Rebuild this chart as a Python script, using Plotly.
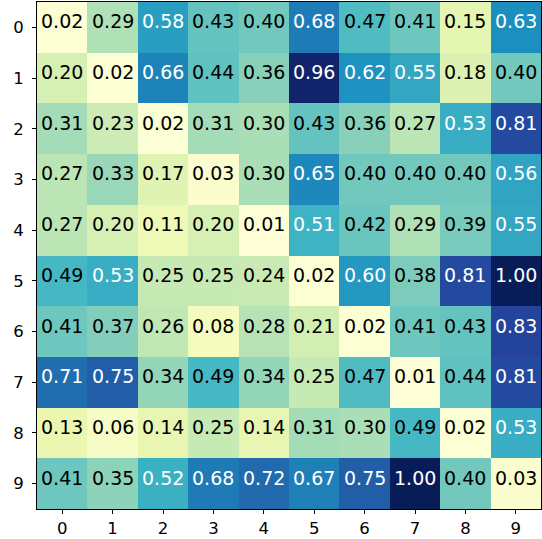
import plotly.graph_objects as go

# Pairwise distance matrix shown as an annotated heatmap
labels = [str(i) for i in range(10)]
row0 = [0.02, 0.29, 0.58, 0.43, 0.40, 0.68, 0.47, 0.41, 0.15, 0.63]
row1 = [0.20, 0.02, 0.66, 0.44, 0.36, 0.96, 0.62, 0.55, 0.18, 0.40]
row2 = [0.31, 0.23, 0.02, 0.31, 0.30, 0.43, 0.36, 0.27, 0.53, 0.81]
row3 = [0.27, 0.33, 0.17, 0.03, 0.30, 0.65, 0.40, 0.40, 0.40, 0.56]
row4 = [0.27, 0.20, 0.11, 0.20, 0.01, 0.51, 0.42, 0.29, 0.39, 0.55]
row5 = [0.49, 0.53, 0.25, 0.25, 0.24, 0.02, 0.60, 0.38, 0.81, 1.00]
row6 = [0.41, 0.37, 0.26, 0.08, 0.28, 0.21, 0.02, 0.41, 0.43, 0.83]
row7 = [0.71, 0.75, 0.34, 0.49, 0.34, 0.25, 0.47, 0.01, 0.44, 0.81]
row8 = [0.13, 0.06, 0.14, 0.25, 0.14, 0.31, 0.30, 0.49, 0.02, 0.53]
row9 = [0.41, 0.35, 0.52, 0.68, 0.72, 0.67, 0.75, 1.00, 0.40, 0.03]
matrix = [row0, row1, row2, row3, row4, row5, row6, row7, row8, row9]

ylgnbu = ["#ffffd9", "#edf8b1", "#c7e9b4", "#7fcdbb", "#41b6c4",
          "#1d91c0", "#225ea8", "#253494", "#081d58"]
colorscale = [[i / (len(ylgnbu) - 1), c] for i, c in enumerate(ylgnbu)]

n = len(labels)
fig = go.Figure(go.Heatmap(
    z=matrix,
    x=list(range(n)),
    y=list(range(n)),
    colorscale=colorscale,
    zmin=0.0, zmax=1.0,
    showscale=False,
    hoverinfo="skip",
))

annotations = []
for r in range(n):
    for c in range(n):
        v = matrix[r][c]
        annotations.append(dict(
            x=c, y=r, xref="x", yref="y",
            text=f"{v:.2f}", showarrow=False, yshift=6,
            font=dict(family="DejaVu Sans", size=19,
                      color="white" if v > 0.5 else "black"),
        ))

axis_common = dict(
    tickmode="array",
    tickvals=list(range(n)),
    ticktext=labels,
    ticks="outside", ticklen=4, tickwidth=1, tickcolor="black",
    showline=True, linecolor="black", linewidth=1, mirror=True,
    showgrid=False, zeroline=False,
    tickfont=dict(family="DejaVu Sans", size=16.5, color="black"),
)

fig.update_layout(
    width=542, height=539,
    margin=dict(l=37, r=1, t=2, b=30),
    paper_bgcolor="white", plot_bgcolor="white",
    xaxis=dict(range=[-0.5, n - 0.5], **axis_common),
    yaxis=dict(range=[n - 0.5, -0.5], ticklabelstandoff=5, **axis_common),
    annotations=annotations,
)

fig.write_html("out.html")
